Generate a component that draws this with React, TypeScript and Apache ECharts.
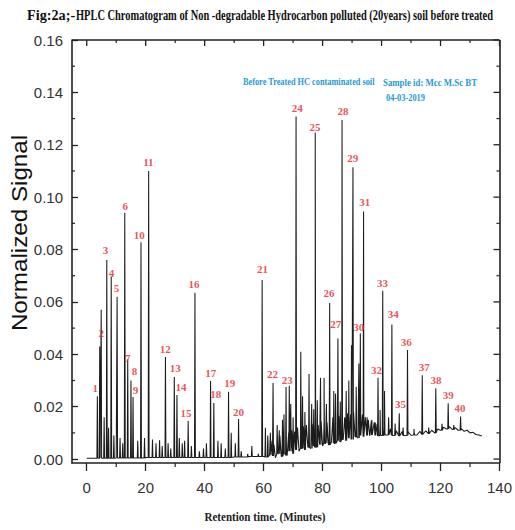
import React, { useEffect, useRef } from "react";
import * as echarts from "echarts";

// ---- axis ticks ----
const xTickValues = [0, 20, 40, 60, 80, 100, 120, 140];
const xMinorTickValues = [10, 30, 50, 70, 90, 110, 130];
const yTickValues = [0, 0.02, 0.04, 0.06, 0.08, 0.1, 0.12, 0.14, 0.16];
const yMinorTickValues = [0.01, 0.03, 0.05, 0.07, 0.09, 0.11, 0.13, 0.15];

// ---- numbered peaks ----
const peakNumbers = [
  1, 2, 3, 4, 5, 6, 7, 8, 9, 10, 11, 12, 13, 14, 15, 16, 17, 18, 19, 20,
  21, 22, 23, 24, 25, 26, 27, 28, 29, 30, 31, 32, 33, 34, 35, 36, 37, 38, 39, 40,
];
const peakRT = [
  3.6, 4.9, 6.8, 8.3, 10.3, 12.9, 13.9, 15.0, 15.7, 18.4, 21.0, 26.7, 29.7, 30.6, 34.4, 36.7, 42.0, 43.1, 48.1, 51.5,
  59.5, 63.2, 67.6, 71.0, 77.5, 82.4, 85.2, 86.6, 90.3, 92.8, 93.9, 98.8, 100.4, 103.5, 106.0, 108.8, 113.8, 118.4, 122.6, 126.8,
];
const peakSignal = [
  0.024, 0.057, 0.076, 0.0697, 0.062, 0.094, 0.038, 0.03, 0.0237, 0.0828, 0.11, 0.039, 0.0313, 0.0245, 0.0145, 0.0635, 0.0298, 0.0214, 0.0257, 0.0153,
  0.0684, 0.029, 0.0275, 0.1308, 0.1247, 0.0596, 0.046, 0.1295, 0.1114, 0.048, 0.0945, 0.031, 0.0643, 0.0514, 0.0175, 0.0416, 0.032, 0.027, 0.0213, 0.0162,
];
// where each number is printed (retention time, signal)
const labelRT = [
  2.9, 4.9, 6.4, 8.4, 10.1, 13.1, 13.9, 16.2, 16.5, 17.8, 20.9, 26.6, 30.0, 32.0, 33.7, 36.4, 42.1, 43.8, 48.5, 51.5,
  59.6, 63.0, 68.0, 71.4, 77.4, 82.2, 84.5, 86.9, 90.2, 92.3, 94.3, 98.3, 100.3, 104.0, 106.4, 108.4, 114.5, 118.5, 122.6, 126.6,
];
const labelSignal = [
  0.0271, 0.0481, 0.0798, 0.0711, 0.0653, 0.0966, 0.0386, 0.0336, 0.0264, 0.0856, 0.1135, 0.042, 0.0348, 0.0275, 0.0176, 0.0669, 0.0329, 0.0248, 0.029, 0.018,
  0.0726, 0.0325, 0.0302, 0.134, 0.1268, 0.0634, 0.0516, 0.1329, 0.115, 0.0504, 0.0982, 0.034, 0.0672, 0.0554, 0.021, 0.0447, 0.0351, 0.0302, 0.0244, 0.0195,
];

// ---- unnumbered peaks ----
const minorPeakRT = [
  4.4, 5.9, 7.4, 9.2, 11.3, 12.2, 17.3, 19.6, 22.3, 23.5, 24.7, 25.6, 27.6, 28.5, 31.4, 32.4, 33.2, 35.5, 38.2, 39.6,
  40.6, 44.5, 45.6, 47.0, 49.0, 50.4, 52.4, 54.6, 56.0, 58.2,
  60.6, 61.4, 62.3, 64.6, 65.3, 66.4, 66.9, 68.7, 69.2, 70.0, 72.6, 73.2, 74.0, 75.4, 76.3, 77.0, 78.2, 79.3, 80.5, 81.3,
  83.8, 84.4, 86.0, 88.0, 88.9, 89.8, 91.4, 92.3, 95.1, 96.7, 97.9, 99.5, 101.0, 102.4, 104.6, 107.3, 111.0, 116.0, 120.5, 124.5,
];
const minorPeakSignal = [
  0.043, 0.016, 0.012, 0.009, 0.008, 0.006, 0.007, 0.008, 0.0075, 0.006, 0.0072, 0.005, 0.006, 0.004, 0.008, 0.006, 0.007, 0.005, 0.003, 0.004,
  0.006, 0.007, 0.006, 0.004, 0.01, 0.006, 0.003, 0.002, 0.005, 0.002,
  0.012, 0.009, 0.01, 0.013, 0.011, 0.015, 0.017, 0.028, 0.021, 0.016, 0.041, 0.024, 0.018, 0.0325, 0.021, 0.019, 0.0225, 0.031, 0.031, 0.021,
  0.026, 0.025, 0.022, 0.026, 0.03, 0.0435, 0.0276, 0.0365, 0.016, 0.015, 0.014, 0.0187, 0.026, 0.016, 0.0136, 0.012, 0.0115, 0.012, 0.0135, 0.013,
];

// ---- baseline trace (hump of unresolved material) ----
const traceRT = [
  0, 10, 20, 30, 40, 50, 55, 59.5,
  60.0, 60.5, 61.0, 61.5, 62.0, 62.5, 63.0, 63.5, 64.0, 64.5, 65.0, 65.5, 66.0, 66.5, 67.0, 67.5, 68.0, 68.5, 69.0, 69.5,
  70.0, 70.5, 71.0, 71.5, 72.0, 72.5, 73.0, 73.5, 74.0, 74.5, 75.0, 75.5, 76.0, 76.5, 77.0, 77.5, 78.0, 78.5, 79.0, 79.5,
  80.0, 80.5, 81.0, 81.5, 82.0, 82.5, 83.0, 83.5, 84.0, 84.5, 85.0, 85.5, 86.0, 86.5, 87.0, 87.5, 88.0, 88.5, 89.0, 89.5,
  90.0, 90.5, 91.0, 91.5, 92.0, 92.5, 93.0, 93.5, 94.0, 94.5, 95.0, 95.5, 96.0, 96.5, 97.0, 97.5, 98.0, 98.5, 99.0, 99.5,
  100, 101, 102, 103, 104, 105, 106, 107, 108, 109, 110, 111, 112, 113, 114, 115, 116, 117, 118, 119,
  120, 121, 122, 123, 124, 125, 126, 127, 128, 129, 130, 131, 132, 133, 134,
];
const traceSignal = [
  0.0003, 0.0004, 0.0006, 0.0007, 0.0006, 0.0008, 0.001, 0.0012,
  0.001, 0.0045, 0.0008, 0.006, 0.0015, 0.007, 0.0012, 0.0055, 0.0005, 0.008, 0.002, 0.009, 0.001, 0.0085, 0.0025, 0.0095, 0.0015, 0.01, 0.003, 0.011,
  0.002, 0.0105, 0.0035, 0.012, 0.003, 0.0115, 0.004, 0.0125, 0.0035, 0.013, 0.0045, 0.012, 0.004, 0.0135, 0.005, 0.014, 0.0045, 0.013, 0.0055, 0.0145,
  0.005, 0.015, 0.006, 0.014, 0.0055, 0.0155, 0.0065, 0.016, 0.006, 0.015, 0.007, 0.0165, 0.0065, 0.017, 0.0075, 0.016, 0.007, 0.0175, 0.008, 0.017,
  0.0075, 0.018, 0.0085, 0.0165, 0.008, 0.0175, 0.009, 0.017, 0.0085, 0.016, 0.009, 0.015, 0.0088, 0.0145, 0.0092, 0.014, 0.009, 0.0135, 0.0088, 0.013,
  0.009, 0.012, 0.0092, 0.0115, 0.009, 0.0108, 0.0088, 0.0105, 0.009, 0.0104, 0.0091, 0.0103, 0.0092, 0.0106, 0.0094, 0.0108, 0.0097, 0.011, 0.01, 0.0115,
  0.011, 0.0122, 0.0115, 0.0124, 0.0113, 0.012, 0.011, 0.0116, 0.0106, 0.011, 0.01, 0.0102, 0.0094, 0.0092, 0.0088,
];

const titleLead = "Fig:2a;-";
const titleText = "HPLC Chromatogram of Non -degradable Hydrocarbon polluted (20years) soil before treated";
const sampleNote = "Before Treated HC contaminated soil";
const sampleId = "Sample id: Mcc M.Sc BT";
const sampleDate = "04-03-2019";
const yName = "Normalized Signal";
const xName = "Retention time. (Minutes)";

function footAt(x: number): number {
  let i = 0;
  while (i < traceRT.length - 1 && traceRT[i + 1] <= x) i++;
  const j = Math.min(i + 1, traceRT.length - 1);
  return Math.min(traceSignal[i], traceSignal[j]);
}

function buildTrace(): number[][] {
  const pts: number[][] = traceRT.map((x, i) => [x, traceSignal[i]]);
  const addPeak = (x: number, h: number) => {
    const f = footAt(x);
    pts.push([x - 0.15, f], [x, h], [x + 0.15, f]);
  };
  peakRT.forEach((x, i) => addPeak(x, peakSignal[i]));
  minorPeakRT.forEach((x, i) => addPeak(x, minorPeakSignal[i]));
  pts.sort((a, b) => a[0] - b[0]);
  return pts;
}

const AXIS_COLOR = "#222";
const LABEL_COLOR = "#333";
const RED = "#e0262e";
const BLUE = "#1f9ad8";

const X_MIN = -5;
const X_MAX = 140;
const Y_MIN = -0.0015;
const Y_MAX = 0.16;

function tickMarks(): any[] {
  const mk = (coord: number[], size: number[], offset: number[]) => ({
    coord,
    symbol: "rect",
    symbolSize: size,
    symbolOffset: offset,
  });
  return [
    ...xTickValues.map((v) => mk([v, Y_MAX], [1.3, 6], [0, 3])),
    ...xMinorTickValues.map((v) => mk([v, Y_MAX], [1.2, 3], [0, 1.5])),
    ...xMinorTickValues.map((v) => mk([v, Y_MIN], [1.2, 4], [0, 2])),
    ...yTickValues.map((v) => mk([X_MAX, v], [6, 1.3], [-3, 0])),
    ...yMinorTickValues.map((v) => mk([X_MAX, v], [3, 1.2], [-1.5, 0])),
    ...yMinorTickValues.map((v) => mk([X_MIN, v], [3, 1.2], [1.5, 0])),
  ];
}

function textGraphics(): any[] {
  const serifBold = { fontWeight: "bold", fontFamily: "Liberation Serif" };
  return [
    {
      type: "text", x: 27, y: 15, scaleX: 0.95,
      style: { text: titleLead, align: "left", verticalAlign: "middle", fill: "#111", fontSize: 15, ...serifBold },
    },
    {
      type: "text", x: 76, y: 15, scaleX: 0.745,
      style: { text: titleText, align: "left", verticalAlign: "middle", fill: "#111", fontSize: 14, ...serifBold },
    },
    {
      type: "text", x: 243, y: 82, scaleX: 0.83,
      style: { text: sampleNote, align: "left", verticalAlign: "middle", fill: BLUE, fontSize: 10, ...serifBold },
    },
    {
      type: "text", x: 383, y: 82, scaleX: 0.8,
      style: { text: sampleId, align: "left", verticalAlign: "middle", fill: BLUE, fontSize: 11, ...serifBold },
    },
    {
      type: "text", x: 386, y: 97, scaleX: 0.76,
      style: { text: sampleDate, align: "left", verticalAlign: "middle", fill: BLUE, fontSize: 11, ...serifBold },
    },
    {
      type: "text", x: 19, y: 233, rotation: Math.PI / 2, scaleX: 1.1,
      style: { text: yName, align: "center", verticalAlign: "middle", fill: "#111", fontSize: 22, fontFamily: "Liberation Sans" },
    },
    {
      type: "text", x: 265, y: 517, scaleX: 0.85,
      style: { text: xName, align: "center", verticalAlign: "middle", fill: "#222", fontSize: 13, ...serifBold },
    },
  ];
}

export default function App() {
  const ref = useRef<HTMLDivElement>(null);
  useEffect(() => {
    document.body.style.margin = "0";
    const chart = echarts.init(ref.current!, null, { renderer: "svg" });
    const option: any = {
      animation: false,
      grid: { left: 72, right: 13, top: 40, bottom: 67 },
      xAxis: {
        type: "value",
        min: X_MIN,
        max: X_MAX,
        splitLine: { show: false },
        axisLine: { onZero: false, lineStyle: { color: AXIS_COLOR, width: 1.6 } },
        axisTick: { customValues: xTickValues, inside: false, length: 8, lineStyle: { color: AXIS_COLOR, width: 1.3 } },
        axisLabel: {
          customValues: xTickValues,
          margin: 17,
          fontSize: 15,
          color: LABEL_COLOR,
          fontFamily: "Liberation Sans",
        },
      },
      yAxis: {
        type: "value",
        min: Y_MIN,
        max: Y_MAX,
        splitLine: { show: false },
        axisLine: { onZero: false, lineStyle: { color: AXIS_COLOR, width: 1.6 } },
        axisTick: { customValues: yTickValues, inside: true, length: 6, lineStyle: { color: AXIS_COLOR, width: 1.3 } },
        axisLabel: {
          customValues: yTickValues,
          margin: 9,
          fontSize: 15,
          color: LABEL_COLOR,
          fontFamily: "Liberation Sans",
          formatter: (v: number) => v.toFixed(2),
        },
      },
      series: [
        {
          type: "line",
          data: buildTrace(),
          symbol: "none",
          showSymbol: false,
          clip: false,
          lineStyle: { color: "#1c1c1c", width: 1.05 },
          silent: true,
          markLine: {
            silent: true,
            symbol: ["none", "none"],
            label: { show: false },
            lineStyle: { color: AXIS_COLOR, width: 1.6, type: "solid" },
            data: [
              [{ coord: [X_MIN, Y_MAX] }, { coord: [X_MAX, Y_MAX] }],
              [{ coord: [X_MAX, Y_MIN] }, { coord: [X_MAX, Y_MAX] }],
            ],
          },
          markPoint: {
            silent: true,
            label: { show: false },
            itemStyle: { color: AXIS_COLOR },
            data: tickMarks(),
          },
        },
        {
          type: "scatter",
          symbolSize: 1,
          itemStyle: { color: "rgba(0,0,0,0)" },
          data: labelRT.map((x, i) => [x, labelSignal[i], peakNumbers[i]]),
          label: {
            show: true,
            position: "inside",
            formatter: (p: any) => String(p.value[2]),
            color: RED,
            fontSize: 11,
            fontWeight: "bold",
            fontFamily: "Liberation Serif",
          },
          z: 10,
        },
      ],
      graphic: textGraphics(),
    };
    chart.setOption(option);
    return () => chart.dispose();
  }, []);
  return <div ref={ref} style={{ width: 515, height: 530 }} />;
}
